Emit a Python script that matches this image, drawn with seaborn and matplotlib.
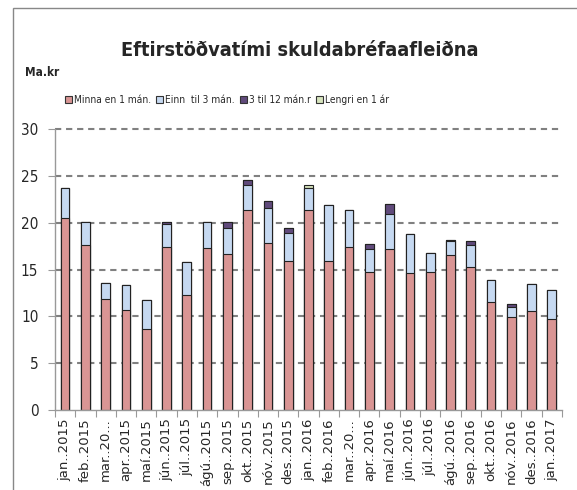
import numpy as np
import pandas as pd
import seaborn as sns
import matplotlib.pyplot as plt
from matplotlib.patches import Rectangle, Patch
from matplotlib import font_manager

# Month labels as shown on the axis
months = ['jan..2015', 'feb..2015', 'mar..20...', 'apr..2015', 'maí.2015', 'jún..2015',
          'júl..2015', 'ágú..2015', 'sep..2015', 'okt..2015', 'nóv..2015', 'des..2015',
          'jan..2016', 'feb..2016', 'mar..20...', 'apr..2016', 'maí.2016', 'jún..2016',
          'júl..2016', 'ágú..2016', 'sep..2016', 'okt..2016', 'nóv..2016', 'des..2016',
          'jan..2017']

# Values (Ma.kr)
minna_1 = [20.5, 17.6, 11.9, 10.7, 8.7, 17.4, 12.3, 17.3, 16.7, 21.3, 17.8, 15.9,
           21.4, 15.9, 17.4, 14.7, 17.2, 14.6, 14.7, 16.6, 15.3, 11.5, 9.9, 10.6, 9.7]
einn_3 = [3.2, 2.5, 1.7, 2.6, 3.0, 2.5, 3.5, 2.8, 2.7, 2.75, 3.8, 3.0,
          2.3, 6.0, 4.0, 2.5, 3.75, 4.2, 2.1, 1.4, 2.35, 2.35, 1.05, 2.9, 3.1]
til_12 = [0.0, 0.0, 0.0, 0.0, 0.0, 0.2, 0.0, 0.0, 0.7, 0.5, 0.75, 0.5,
          0.05, 0.0, 0.0, 0.5, 1.05, 0.0, 0.0, 0.15, 0.4, 0.0, 0.35, 0.0, 0.0]
lengri_1 = [0.0, 0.0, 0.0, 0.0, 0.0, 0.0, 0.0, 0.0, 0.0, 0.0, 0.0, 0.0,
            0.25, 0.0, 0.0, 0.0, 0.0, 0.0, 0.0, 0.0, 0.0, 0.0, 0.0, 0.0, 0.0]

series = ['Minna en 1 mán.', 'Einn  til 3 mán.', '3 til 12 mán.r', 'Lengri en 1 ár']
colors = ['#D99594', '#C6D9F1', '#604A7B', '#D7E4BD']

df = pd.DataFrame({'pos': np.arange(len(months)), series[0]: minna_1, series[1]: einn_3,
                   series[2]: til_12, series[3]: lengri_1})
cum = df[series].cumsum(axis=1)

sns.set_style('white')
plt.rcParams['font.family'] = ['DejaVu Sans']

# condensed face for the Excel-style texts, if it is there
cond = font_manager.FontProperties(family='DejaVu Sans', stretch='condensed')
if 'Condensed' in font_manager.findfont(cond):
    stretch, k = 'condensed', 1.0
else:
    stretch, k = 'normal', 0.85

fig = plt.figure(figsize=(5.77, 4.9), dpi=100)
ax = fig.add_axes([0.0953, 0.1633, 0.8787, 0.5734])

# draw cumulative layers back to front so they stack
for i in range(len(series) - 1, -1, -1):
    sns.barplot(x=df['pos'], y=cum[series[i]], color=colors[i], width=0.43,
                edgecolor='#222222', linewidth=0.8, saturation=1, ax=ax, errorbar=None)

ax.set_xlim(-0.5, len(months) - 0.5)
ax.set_ylim(0, 30)
ax.set_yticks(range(0, 31, 5))
ax.set_yticklabels([str(v) for v in range(0, 31, 5)], fontsize=11 * k, fontstretch=stretch)
ax.set_xlabel('')
ax.set_ylabel('')
ax.set_xticks(range(len(months)))
ax.set_xticklabels(months, rotation=90, fontsize=9.5)
ax.set_xticks(np.arange(-0.5, len(months), 1), minor=True)
ax.tick_params(axis='x', which='major', length=0, pad=6)
ax.tick_params(axis='x', which='minor', length=5, color='#999999', width=0.8, direction='out', bottom=True)
ax.tick_params(axis='y', length=5, color='#999999', direction='out', left=True, pad=7)

for y in range(5, 31, 5):
    ax.axhline(y, color='#808080', lw=1.5, ls=(0, (3, 2.3)), zorder=0, clip_on=False)

for s in ['top', 'right']:
    ax.spines[s].set_visible(False)
for s in ['left', 'bottom']:
    ax.spines[s].set_color('#999999')
    ax.spines[s].set_linewidth(1)

handles = [Patch(facecolor=c, edgecolor='#333333', lw=0.8) for c in colors]
fig.legend(handles, series, loc='center', bbox_to_anchor=(227 / 577, 1 - 100 / 490),
           ncol=4, frameon=False, prop={'size': 7.3 * k, 'stretch': stretch},
           handlelength=0.7, handleheight=0.7, handletextpad=0.25, columnspacing=0.45, borderpad=0)

fig.text(300 / 577, 1 - 50 / 490, 'Eftirstöðvatími skuldabréfaafleiðna', ha='center', va='center',
         fontsize=14.3 * k, fontweight='bold', fontstretch=stretch)
fig.text(25 / 577, 1 - 73 / 490, 'Ma.kr', ha='left', va='center', fontsize=8.5 * k,
         fontweight='bold', fontstretch=stretch)

fig.patches.append(Rectangle((13 / 577, -0.1), 1.2, 1 - 8 / 490 + 0.1, transform=fig.transFigure,
                             fill=False, edgecolor='#888888', lw=1))

fig.savefig('out.png', dpi=100)
